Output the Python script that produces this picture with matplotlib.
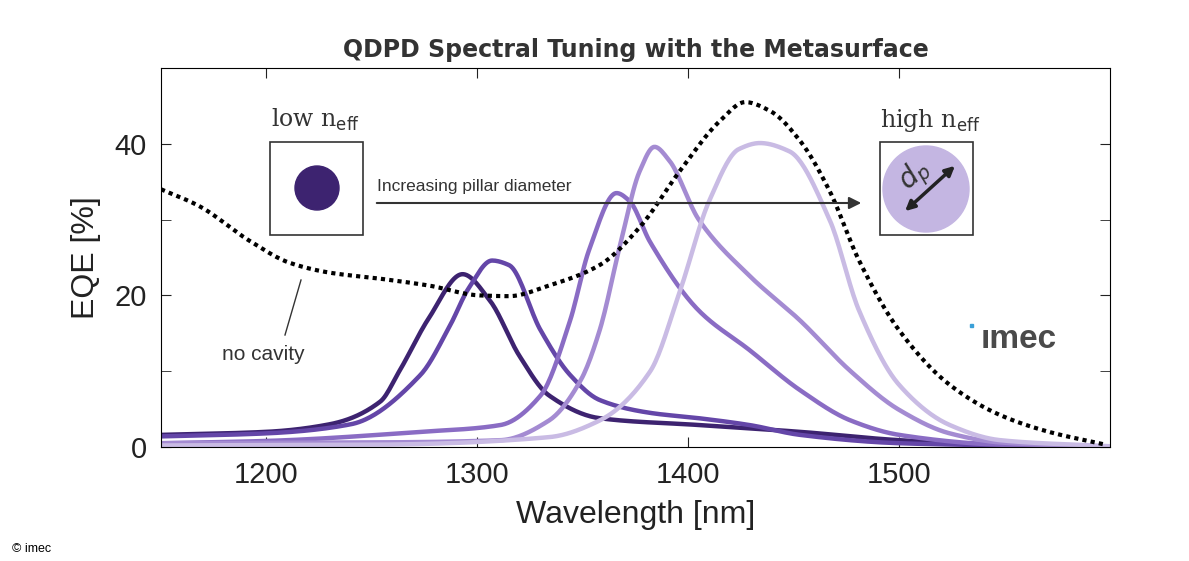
import matplotlib
matplotlib.use("Agg")
import matplotlib.pyplot as plt
import numpy as np
from matplotlib.patches import Rectangle, Ellipse, FancyArrowPatch

nocav_x = [1150,1168,1192,1211,1230,1254,1277,1301,1315,1334,1358,1377,1396,1415,1427,1439,1453,1467,1481,1500,1524,1548,1571,1598]
nocav_y = [34,31.8,27.2,24.3,23,22.2,21.3,20,19.9,21.3,24,29,36.4,43,45.5,44.3,40.4,33.8,24.6,15.4,8.2,4.2,2,0.3]

c1_x = [1150,1200,1230,1254,1263,1277,1293,1306,1320,1334,1358,1405,1453,1500,1548,1600]
c1_y = [1.6,2,3,6,10,17,22.8,19.3,12,6.8,3.8,2.9,2,0.9,0.3,0]
c2_x = [1150,1200,1240,1273,1287,1296,1307,1315,1330,1344,1358,1382,1405,1429,1453,1500,1550,1600]
c2_y = [1.4,1.8,3,9.5,16,21,24.6,24,15.4,9.5,6.2,4.5,3.8,2.9,1.6,0.5,0.2,0]
c3_x = [1150,1200,1273,1311,1330,1344,1353,1366,1372,1382,1405,1429,1453,1477,1500,1548,1600]
c3_y = [0.5,0.8,2.0,2.9,6.8,16.7,26,33.5,32.5,27,18,12.8,7.5,3.5,1.6,0.3,0]
c4_x = [1150,1250,1311,1334,1349,1358,1368,1377,1384,1391,1405,1429,1453,1477,1500,1524,1548,1600]
c4_y = [0.5,0.6,0.9,3.5,8.8,15.4,27,36.4,39.6,37.8,30,22.6,16.7,10,4.9,1.8,0.6,0]
c5_x = [1150,1250,1334,1358,1382,1396,1410,1424,1434,1448,1467,1481,1500,1524,1548,1600]
c5_y = [0.2,0.3,1.3,3.5,10,20.5,32.5,39.3,40.1,39,30,18,8.2,2.9,0.9,0.1]

colors = ['#3d2370', '#6446a8', '#8a6cc4', '#a48bd2', '#c9bbe4']
xticks = [1200, 1300, 1400, 1500]
yticks = [0, 20, 40]


def pchip(x, y, n=600):
    x = np.asarray(x, float); y = np.asarray(y, float)
    h = np.diff(x); d = np.diff(y) / h
    m = np.zeros_like(y)
    for k in range(1, len(x) - 1):
        if d[k-1] * d[k] > 0:
            w1 = 2*h[k] + h[k-1]; w2 = h[k] + 2*h[k-1]
            m[k] = (w1 + w2) / (w1/d[k-1] + w2/d[k])
    m[0] = d[0]; m[-1] = d[-1]
    xs = np.linspace(x[0], x[-1], n)
    i = np.clip(np.searchsorted(x, xs) - 1, 0, len(x) - 2)
    t = (xs - x[i]) / h[i]
    h00 = 2*t**3 - 3*t**2 + 1; h10 = t**3 - 2*t**2 + t
    h01 = -2*t**3 + 3*t**2; h11 = t**3 - t**2
    ys = h00*y[i] + h10*h[i]*m[i] + h01*y[i+1] + h11*h[i]*m[i+1]
    return xs, ys

plt.rcParams['font.family'] = ['Liberation Sans', 'DejaVu Sans']
W, H = 1189, 561
fig = plt.figure(figsize=(W/100, H/100), dpi=100)
ax = fig.add_axes([161/W, 1-447/H, 949/W, 379/H])

for (x, y), c in zip([(c1_x,c1_y),(c2_x,c2_y),(c3_x,c3_y),(c4_x,c4_y),(c5_x,c5_y)], colors):
    xs, ys = pchip(x, y)
    ax.plot(xs, ys, color=c, lw=3.2, solid_capstyle='round')
xs, ys = pchip(nocav_x, nocav_y)
ax.plot(xs, ys, color='black', lw=3, linestyle=(0, (1, 1)))

ax.set_xlim(1150, 1600)
ax.set_ylim(0, 50)
ax.set_xticks(xticks)
ax.set_xticklabels([str(t) for t in xticks], fontsize=21)
ax.set_yticks(yticks)
ax.set_yticklabels([str(t) for t in yticks], fontsize=21)
ax.set_yticks([10, 30, 50], minor=True)
ax.tick_params(which='both', direction='in', top=True, right=True, length=7, pad=10, colors='#222222')
ax.set_xlabel('Wavelength [nm]', fontsize=23, labelpad=8, color='#222222')
ax.set_ylabel('EQE [%]', fontsize=23, labelpad=10, color='#222222')
ax.set_title('QDPD Spectral Tuning with the Metasurface', fontsize=17, fontweight='bold', pad=8,
             family=['DejaVu Sans'], color='#333333')

def fx(px): return px / W
def fy(py): return 1 - py / H
T = fig.transFigure
fig.patches.append(Rectangle((fx(270), fy(235)), 93/W, 93/H, fill=False, ec='#333333', lw=1.2, transform=T))
fig.patches.append(Rectangle((fx(880), fy(235)), 93/W, 93/H, fill=False, ec='#333333', lw=1.2, transform=T))
fig.patches.append(Ellipse((fx(317), fy(188)), 44/W, 44/H, color='#3d2370', transform=T))
fig.patches.append(Ellipse((fx(926), fy(189)), 86/W, 86/H, color='#c4b6e2', transform=T))
fig.patches.append(FancyArrowPatch((fx(374), fy(203)), (fx(864), fy(203)), arrowstyle='-|>', mutation_scale=18,
                                   color='#333333', lw=1.5, transform=T))
fig.patches.append(FancyArrowPatch((fx(903), fy(213)), (fx(957), fy(164)), arrowstyle='<|-|>', mutation_scale=14,
                                   color='#222222', lw=2.5, transform=T))
fig.text(fx(915), fy(176), r'$d_p$', fontsize=20, rotation=42, ha='center', va='center', color='#333333')
fig.text(fx(316), fy(120), r'low n$_{\mathrm{eff}}$', fontsize=17, ha='center', va='center', family='serif', color='#333333')
fig.text(fx(930), fy(120), r'high n$_{\mathrm{eff}}$', fontsize=17, ha='center', va='center', family='serif', color='#333333')
fig.text(fx(377), fy(186), 'Increasing pillar diameter', fontsize=12.5, ha='left', va='center', color='#333333')
fig.text(fx(222), fy(355), 'no cavity', fontsize=15, ha='left', va='center', color='#333333')
fig.add_artist(plt.Line2D([fx(285), fx(301)], [fy(335), fy(280)], color='#333333', lw=1, transform=T))
fig.text(fx(981), fy(340), 'ımec', fontsize=24, ha='left', va='center', color='#4a4a4a', fontweight='bold')
fig.patches.append(Rectangle((fx(970), fy(327)), 3/W, 3/H, color='#3aa0d8', transform=T))
fig.text(fx(12), fy(549), '© imec', fontsize=9, ha='left', va='center')

fig.savefig('out.png', dpi=100)
